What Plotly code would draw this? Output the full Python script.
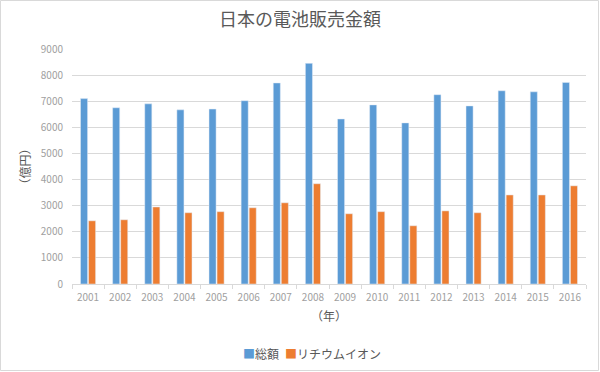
import plotly.graph_objects as go

years = [str(y) for y in range(2001, 2017)]
total = [7100, 6750, 6900, 6670, 6700, 7020, 7700, 8450, 6320, 6860, 6170, 7250, 6820, 7400, 7360, 7720]
lithium = [2420, 2460, 2950, 2730, 2770, 2920, 3110, 3840, 2690, 2770, 2230, 2800, 2730, 3410, 3410, 3760]
series_names = ["総額", "リチウムイオン"]
colors = ["#5B9BD5", "#ED7D31"]

FONT = "Noto Sans CJK JP"

fig = go.Figure()
fig.add_trace(go.Bar(x=years, y=total, name=series_names[0], marker_color=colors[0]))
fig.add_trace(go.Bar(x=years, y=lithium, name=series_names[1], marker_color=colors[1]))

L, R, T, B = 72, 14, 49, 88
W, H = 600, 372
pw, ph = W - L - R, H - T - B

def px_x(x):
    return (x - L) / pw

def px_y(y):
    return (H - B - y) / ph

annotations = []
legend_y = px_y(353)
items = [(241, series_names[0], colors[0]), (283, series_names[1], colors[1])]
for x0, name, col in items:
    annotations.append(dict(x=px_x(x0), y=legend_y, xref="paper", yref="paper", xanchor="left", yanchor="middle",
                            text=f"<span style='color:{col}'>■</span>{name}", showarrow=False,
                            font=dict(size=12, color="#595959", family=FONT)))

fig.update_layout(
    width=W, height=H,
    margin=dict(l=L, r=R, t=T, b=B, autoexpand=False),
    paper_bgcolor="white", plot_bgcolor="white",
    font=dict(family=FONT, color="#A0A0A0", size=10),
    title=dict(text="日本の電池販売金額", x=0.5, xanchor="center", y=1 - 20 / H, yanchor="middle",
               font=dict(size=18, color="#595959", family=FONT)),
    barmode="group", bargap=0.5, bargroupgap=0.12,
    showlegend=False,
    annotations=annotations,
    xaxis=dict(
        title=dict(text="（年）", font=dict(size=12, color="#595959"), standoff=9),
        showgrid=False, showline=True, linecolor="#D9D9D9", linewidth=1,
        ticks="outside", tickson="boundaries", tickcolor="#D9D9D9", ticklen=4,
        tickangle=0, tickfont=dict(size=10, color="#A0A0A0"), automargin=False,
        ticklabelstandoff=4,
    ),
    yaxis=dict(
        title=dict(text="（億円）", font=dict(size=12, color="#595959"), standoff=7),
        range=[0, 9000], dtick=1000, showgrid=True, gridcolor="#D9D9D9", gridwidth=1,
        zeroline=False, showline=False, tickfont=dict(size=10, color="#A0A0A0"),
        ticklabelstandoff=8, automargin=False,
    ),
    shapes=[dict(type="rect", xref="paper", yref="paper",
                 x0=-(L - 0.5) / pw, x1=1 + (R - 1.5) / pw,
                 y0=-(B - 1.5) / ph, y1=1 + (T - 0.5) / ph,
                 line=dict(color="#D9D9D9", width=1))],
)

fig.write_html("out.html", config={"displayModeBar": False},
               post_script="document.body.style.margin='0';")
